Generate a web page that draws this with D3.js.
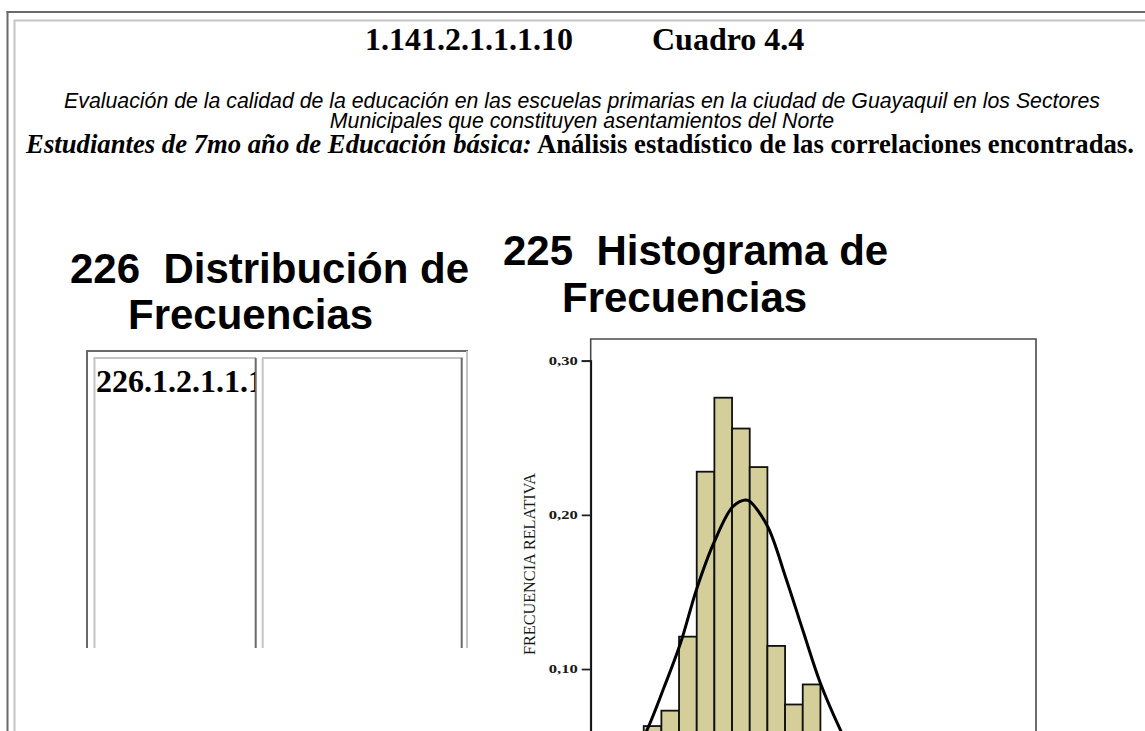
<!DOCTYPE html>
<html>
<head>
<meta charset="utf-8">
<script src="https://cdn.jsdelivr.net/npm/d3@7"></script>
<style>
  body { margin: 0; background: #fff; }
  svg { display: block; }
</style>
</head>
<body>
<svg id="page" width="1145" height="731"></svg>
<script>
// relative frequency per class (bins left to right)
const barFreq = [0.063, 0.073, 0.121, 0.228, 0.276, 0.256, 0.231, 0.115, 0.077, 0.090];

// normal curve, points (x in bin units)
const curveX = [-0.8, 0.19, 1.13, 2.08, 2.98, 3.96, 5.04, 5.76, 6.02, 7.02, 8.02, 9.0, 10.0, 11.13, 12.2];
const curveY = [0.038, 0.0605, 0.0875, 0.1167, 0.1513, 0.1816, 0.2053, 0.2097, 0.2086, 0.1923, 0.1599, 0.1253, 0.0908, 0.0605, 0.036];

const yTicks = [0.10, 0.20, 0.30];

const svg = d3.select("#page");
const serif = "'Liberation Serif', 'Times New Roman', serif";
const sans = "'Liberation Sans', Arial, sans-serif";
const dark = "#6a6a6a", light = "#c4c4c4";

// page table borders
function line(x1, y1, x2, y2, color, w) {
    svg.append("line")
        .attr("x1", x1).attr("y1", y1).attr("x2", x2).attr("y2", y2)
        .attr("stroke", color).attr("stroke-width", w);
}
line(6.5, 12, 1145, 12, dark, 2);
line(7.5, 11, 7.5, 731, dark, 2);
line(14, 20.5, 1145, 20.5, light, 2);
line(14.5, 20, 14.5, 731, light, 2);

// headers
svg.append("text").attr("x", 365).attr("y", 50)
    .attr("font-family", serif).attr("font-weight", "bold").attr("font-size", 32)
    .text("1.141.2.1.1.1.10");
svg.append("text").attr("x", 652).attr("y", 50)
    .attr("font-family", serif).attr("font-weight", "bold").attr("font-size", 32)
    .text("Cuadro 4.4");

svg.append("text").attr("x", 582).attr("y", 108).attr("text-anchor", "middle")
    .attr("font-family", sans).attr("font-style", "italic").attr("font-size", 21.3)
    .text("Evaluación de la calidad de la educación en las escuelas primarias en la ciudad de Guayaquil en los Sectores");
svg.append("text").attr("x", 582).attr("y", 127.5).attr("text-anchor", "middle")
    .attr("font-family", sans).attr("font-style", "italic").attr("font-size", 21.3)
    .text("Municipales que constituyen asentamientos del Norte");

const l3 = svg.append("text").attr("x", 580).attr("y", 153).attr("text-anchor", "middle")
    .attr("font-family", serif).attr("font-weight", "bold").attr("font-size", 26.7);
l3.append("tspan").attr("font-style", "italic").text("Estudiantes de 7mo año de Educación básica:");
l3.append("tspan").text(" Análisis estadístico de las correlaciones encontradas.");

// section titles
const heads = [
    {x: 70, y: 283, t: "226\u00a0 Distribución de"},
    {x: 128, y: 328.5, t: "Frecuencias"},
    {x: 503, y: 265, t: "225\u00a0 Histograma de"},
    {x: 562, y: 311.5, t: "Frecuencias"}
];
svg.selectAll("text.head").data(heads).enter().append("text")
    .attr("class", "head")
    .attr("x", d => d.x).attr("y", d => d.y)
    .attr("font-family", sans).attr("font-weight", "bold").attr("font-size", 42)
    .text(d => d.t);

// left (empty) frequency table
line(86, 351, 468, 351, dark, 2);
line(87, 350, 87, 648, dark, 2);
line(467, 351, 467, 648, light, 2);
line(93.5, 358, 256, 358, light, 2);
line(94.5, 358, 94.5, 648, light, 2);
line(255.7, 358, 255.7, 648, dark, 2);
line(262, 358, 463, 358, light, 2);
line(262.7, 358, 262.7, 648, light, 2);
line(461.7, 358, 461.7, 648, dark, 2);

svg.append("clipPath").attr("id", "cell1").append("rect")
    .attr("x", 95).attr("y", 358).attr("width", 160).attr("height", 290);
svg.append("text").attr("clip-path", "url(#cell1)")
    .attr("x", 96).attr("y", 391.5)
    .attr("font-family", serif).attr("font-weight", "bold").attr("font-size", 32)
    .text("226.1.2.1.1.1");

// histogram
const x = d3.scaleLinear().domain([-3, 22.2]).range([590.7, 1036]);
const y = d3.scaleLinear().domain([0, 0.30]).range([823.2, 360.7]);

const hist = svg.append("g");

hist.selectAll("rect.bar").data(barFreq).enter().append("rect")
    .attr("class", "bar")
    .attr("x", (d, i) => x(i))
    .attr("width", (d, i) => x(i + 1) - x(i))
    .attr("y", d => y(d))
    .attr("height", d => y(0) - y(d))
    .attr("fill", "#d4cf9a")
    .attr("stroke", "#111")
    .attr("stroke-width", 1.8);

const pts = curveX.map((v, i) => [v, curveY[i]]);
hist.append("path")
    .datum(pts)
    .attr("fill", "none")
    .attr("stroke", "#000")
    .attr("stroke-width", 3)
    .attr("d", d3.line().x(d => x(d[0])).y(d => y(d[1])).curve(d3.curveCatmullRom));

// frame
hist.append("path")
    .attr("d", `M${x(-3)},${y(0) + 20}V339H${x(22.2)}V${y(0) + 20}`)
    .attr("fill", "none")
    .attr("stroke", "#4a4a4a")
    .attr("stroke-width", 1.6);

const yAxis = d3.axisLeft(y)
    .tickValues(yTicks)
    .tickSize(9)
    .tickPadding(4)
    .tickFormat(d => d3.format(".2f")(d).replace(".", ","));

const ag = hist.append("g")
    .attr("transform", `translate(${x(-3)},0)`)
    .call(yAxis);
ag.select(".domain").attr("stroke", "#111").attr("stroke-width", 1.8);
ag.selectAll(".tick line").attr("stroke", "#222").attr("stroke-width", 1.8);
ag.selectAll(".tick text")
    .attr("font-family", serif)
    .attr("font-weight", "bold")
    .attr("font-size", 12)
    .attr("fill", "#1a1a1a")
    .attr("textLength", 29)
    .attr("lengthAdjust", "spacingAndGlyphs");

hist.append("text")
    .attr("transform", "translate(535,564) rotate(-90)")
    .attr("text-anchor", "middle")
    .attr("font-family", serif)
    .attr("font-size", 17)
    .attr("fill", "#1a1a1a")
    .attr("textLength", 182)
    .attr("lengthAdjust", "spacingAndGlyphs")
    .text("FRECUENCIA RELATIVA");
</script>
</body>
</html>
